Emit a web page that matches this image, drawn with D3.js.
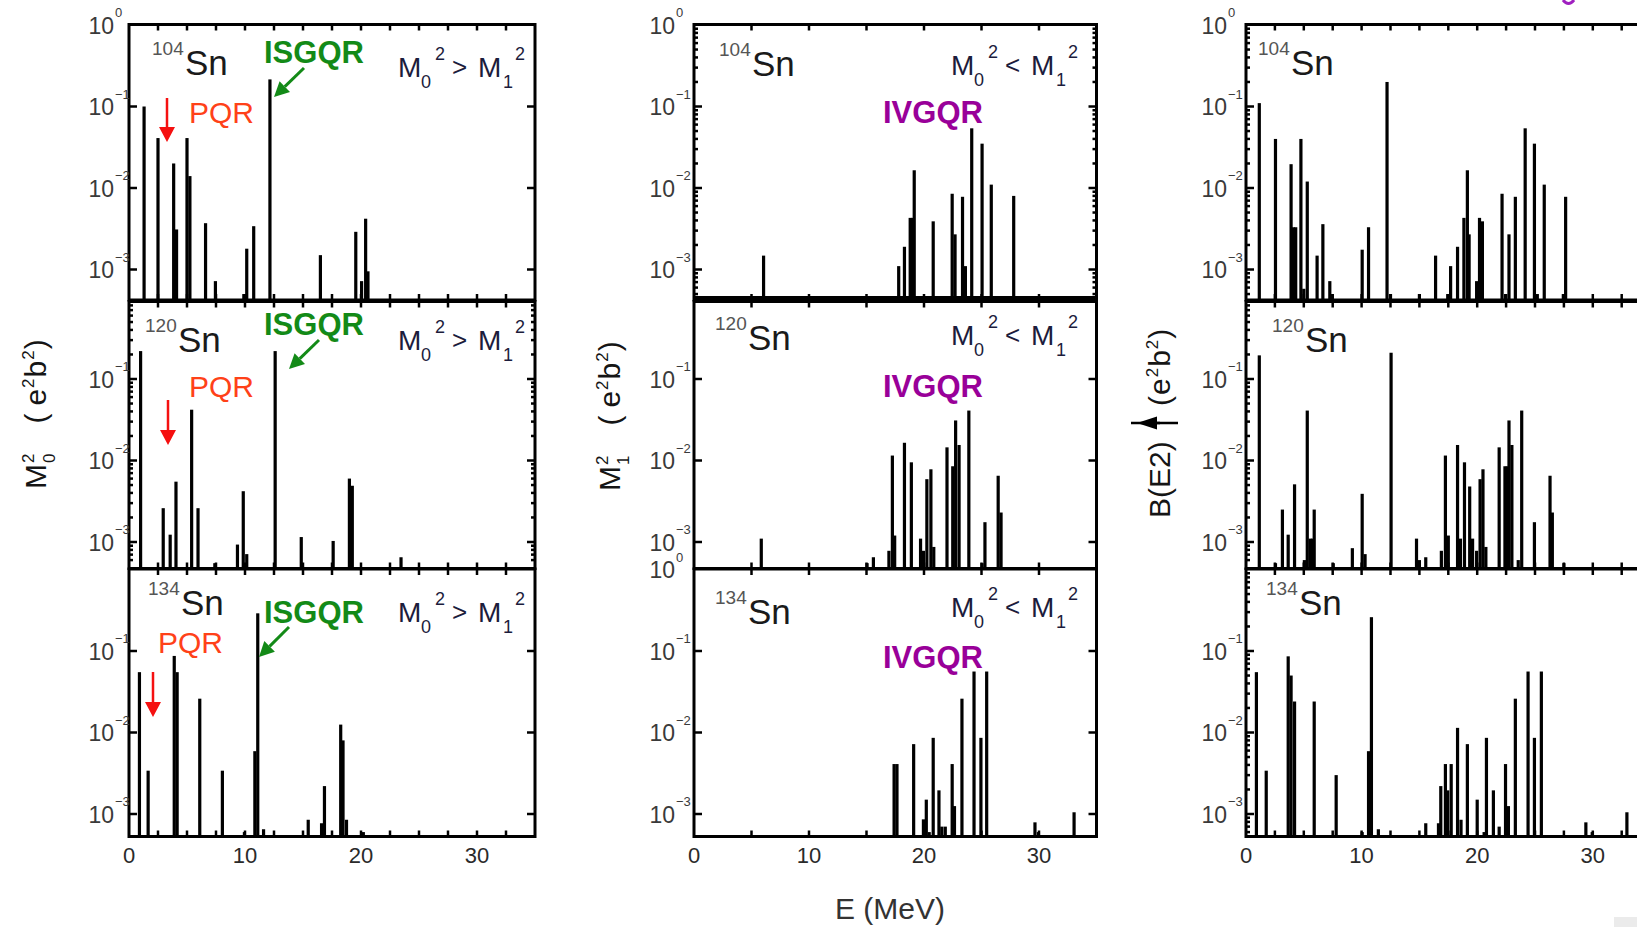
<!DOCTYPE html>
<html>
<head>
<meta charset="utf-8">
<script src="https://cdn.jsdelivr.net/npm/d3@7"></script>
<style>
body { margin: 0; background: #fff; overflow: hidden; }
svg { display: block; font-family: "Liberation Sans", Arial, sans-serif; }
</style>
</head>
<body>
<div id="vis"></div>
<script>
// ---- data ----
var energyTicks = [0, 10, 20, 30];
var decadeTicks = [0, -1, -2, -3];
var massNumbers = ['104', '120', '134'];

// M0^2 (e^2 b^2)
var m0Sn104E = [1.3, 2.5, 3.85, 4.1, 5.0, 5.25, 6.6, 7.45, 9.9, 10.15, 10.75, 12.15, 16.5, 19.55, 20.05, 20.4, 20.6];
var m0Sn104V = [0.10, 0.041, 0.020, 0.0031, 0.041, 0.014, 0.0037, 7.2e-4, 5e-4, 1.8e-3, 3.4e-3, 0.215, 1.5e-3, 2.9e-3, 7.2e-4, 4.2e-3, 9.5e-4];
var m0Sn120E = [1.0, 2.95, 3.55, 4.05, 5.4, 5.95, 7.4, 9.35, 9.85, 10.15, 12.6, 14.85, 17.6, 19.0, 19.25, 23.45];
var m0Sn120V = [0.22, 2.6e-3, 1.23e-3, 5.5e-3, 0.042, 2.6e-3, 5.5e-4, 9.3e-4, 4.2e-3, 7.1e-4, 0.22, 1.15e-3, 1.03e-3, 6.0e-3, 4.9e-3, 6.5e-4];
var m0Sn134E = [0.9, 1.65, 3.9, 4.15, 5.05, 6.1, 8.05, 9.95, 10.85, 11.1, 11.6, 15.0, 15.45, 16.6, 16.85, 18.25, 18.45, 18.75, 20.2];
var m0Sn134V = [0.055, 3.4e-3, 0.087, 0.055, 5.5e-4, 0.026, 3.4e-3, 6e-4, 5.9e-3, 0.29, 6.5e-4, 5.5e-4, 8.5e-4, 7.7e-4, 2.2e-3, 0.0125, 8e-3, 8.5e-4, 6e-4];

// M1^2 (e^2 b^2)
var m1Sn104E = [6.05, 17.8, 18.3, 18.8, 19.0, 19.15, 20.8, 22.45, 22.7, 23.35, 23.6, 24.15, 25.05, 25.85, 27.8];
var m1Sn104V = [1.48e-3, 1.1e-3, 1.9e-3, 4.3e-3, 4.3e-3, 0.0165, 3.9e-3, 8.5e-3, 2.7e-3, 7.8e-3, 1.1e-3, 0.054, 0.035, 0.011, 8e-3];
var m1Sn120E = [5.85, 15.05, 15.6, 16.95, 17.25, 17.45, 18.3, 18.9, 19.7, 19.95, 20.25, 20.6, 20.85, 22.0, 22.5, 22.75, 23.05, 23.9, 25.05, 25.3, 26.45, 26.7];
var m1Sn120V = [1.1e-3, 5.5e-4, 6.5e-4, 7.8e-4, 0.0115, 1.2e-3, 0.0165, 9.5e-3, 1.1e-3, 7.8e-4, 5.9e-3, 7.8e-3, 8.7e-4, 0.0145, 8.5e-3, 0.031, 0.0155, 0.041, 5.5e-4, 1.75e-3, 6.5e-3, 2.3e-3];
var m1Sn134E = [17.4, 17.65, 19.1, 19.95, 20.2, 20.45, 20.8, 21.3, 21.55, 21.85, 22.45, 22.65, 23.3, 24.35, 24.95, 25.45, 29.65, 29.95, 33.05];
var m1Sn134V = [4.1e-3, 4.1e-3, 7.2e-3, 8.6e-4, 1.5e-3, 6e-4, 8.6e-3, 1.95e-3, 7e-4, 7e-4, 4.1e-3, 1.25e-3, 0.026, 0.056, 8.6e-3, 0.056, 7.9e-4, 6e-4, 1.05e-3];

// B(E2) up (e^2 b^2)
var be2Sn104E = [1.15, 2.55, 3.9, 4.1, 4.3, 4.75, 5.0, 5.3, 6.15, 6.65, 7.25, 7.45, 10.05, 10.6, 12.2, 12.5, 15.0, 16.4, 17.45, 17.7, 18.3, 18.85, 19.15, 19.3, 19.95, 20.2, 20.45, 22.15, 22.45, 22.75, 23.3, 24.15, 24.95, 25.2, 25.8, 27.45, 27.65];
var be2Sn104V = [0.11, 0.040, 0.0196, 3.3e-3, 3.3e-3, 0.040, 5.8e-4, 0.012, 1.48e-3, 3.6e-3, 7.2e-4, 5e-4, 1.75e-3, 3.3e-3, 0.20, 5e-4, 5e-4, 1.48e-3, 5e-4, 1.1e-3, 1.9e-3, 4.3e-3, 0.0165, 2.7e-3, 7.2e-4, 4.3e-3, 3.9e-3, 8.5e-3, 5e-4, 2.7e-3, 7.8e-3, 0.054, 0.035, 5e-4, 0.011, 5e-4, 7.8e-3];
var be2Sn120E = [1.15, 2.55, 3.15, 3.65, 4.2, 5.05, 5.3, 5.55, 5.75, 5.9, 7.55, 9.2, 10.05, 10.3, 12.55, 14.75, 15.0, 15.55, 16.9, 17.25, 17.5, 18.3, 18.55, 18.9, 19.35, 19.6, 19.95, 20.25, 20.5, 20.75, 21.9, 22.4, 22.6, 22.75, 23.0, 23.55, 23.85, 24.95, 26.3, 26.5, 27.5];
var be2Sn120V = [0.195, 5.5e-4, 2.5e-3, 1.23e-3, 5.1e-3, 6e-4, 0.041, 1.1e-3, 1.1e-3, 2.5e-3, 5.5e-4, 8.4e-4, 3.9e-3, 7.1e-4, 0.21, 1.1e-3, 6e-4, 6.5e-4, 7.8e-4, 0.0115, 1.2e-3, 0.0155, 1.1e-3, 9.5e-3, 4.8e-3, 1.1e-3, 7.8e-4, 5.9e-3, 7.8e-3, 8.7e-4, 0.0145, 8.5e-3, 8.5e-3, 0.031, 0.0155, 6e-4, 0.041, 1.75e-3, 6.5e-3, 2.3e-3, 5.5e-4];
var be2Sn134E = [0.9, 1.75, 3.65, 3.9, 4.2, 5.05, 5.9, 7.8, 10.05, 10.6, 10.85, 11.45, 15.0, 15.55, 16.65, 16.85, 17.25, 17.45, 17.75, 18.3, 18.6, 19.15, 20.0, 20.6, 20.8, 21.4, 21.9, 22.45, 22.7, 23.3, 24.4, 24.95, 25.55, 29.4, 29.95, 32.95];
var be2Sn134V = [0.055, 3.4e-3, 0.086, 0.05, 0.024, 5.5e-4, 0.024, 3.0e-3, 6e-4, 5.9e-3, 0.26, 6.5e-4, 5.5e-4, 7.7e-4, 7.7e-4, 2.2e-3, 4.1e-3, 1.95e-3, 4.1e-3, 0.0114, 8.5e-4, 7.2e-3, 1.5e-3, 6e-4, 8.6e-3, 1.95e-3, 7e-4, 4.1e-3, 1.25e-3, 0.026, 0.056, 8.6e-3, 0.056, 7.9e-4, 6e-4, 1.05e-3];

// [column][row]
var panelData = [
    [{e: m0Sn104E, v: m0Sn104V}, {e: m0Sn120E, v: m0Sn120V}, {e: m0Sn134E, v: m0Sn134V}],
    [{e: m1Sn104E, v: m1Sn104V}, {e: m1Sn120E, v: m1Sn120V}, {e: m1Sn134E, v: m1Sn134V}],
    [{e: be2Sn104E, v: be2Sn104V}, {e: be2Sn120E, v: be2Sn120V}, {e: be2Sn134E, v: be2Sn134V}]
];


class StrengthFigure
{
    constructor(width, height)
    {
        // layout
        this.colX0 = [129, 694, 1246];
        this.colX1 = [535, 1096.5, 1650.6];
        this.rowTop = [24.5, 301.5, 569];
        this.rowBot = [300, 568.5, 836.5];
        this.rowZero = [25, 297.5, 569.5];
        this.decade = 81.5;
        this.barWidth = 3.2;
        this.xTickStep = [2.5, 5, 2.5];
        this.yLabelGap = [14, 18, 18];
        this.minorTicks = [[false, true, false], [true, false, false], [true, true, true]];
        this.nucLabel = [
            [[152, 75], [145, 352], [148, 615]],
            [[719, 76], [715, 350], [715, 624]],
            [[1258, 75], [1272, 352], [1266, 615]]
        ];

        this.svg = d3.select('#vis')
            .append('svg')
                .attr('width', width)
                .attr('height', height);

        this.svg.append('rect')
            .attr('width', width)
            .attr('height', height)
            .attr('fill', '#fff');
    }

    xScale(c)
    {
        return d3.scaleLinear().domain([0, 35]).range([this.colX0[c], this.colX1[c]]);
    }

    yScale(r)
    {
        return d3.scaleLog().domain([1, 1e-3]).range([this.rowZero[r], this.rowZero[r] + 3 * this.decade]);
    }

    drawPanel(c, r)
    {
        var x = this.xScale(c);
        var y = this.yScale(r);
        var top = this.rowTop[r];
        var bot = this.rowBot[r];
        var x0 = this.colX0[c];
        var x1 = this.colX1[c];
        var bw = this.barWidth;
        var gap = this.yLabelGap[c];
        var d = panelData[c][r];
        var bars = d.e.map(function(e, i) { return {e: e, v: d.v[i]}; });

        var g = this.svg.append('g');

        g.selectAll('rect.bar')
            .data(bars)
            .enter()
            .append('rect')
                .attr('class', 'bar')
                .attr('x', function(b) { return x(b.e) - bw / 2; })
                .attr('y', function(b) { return y(b.v); })
                .attr('width', bw)
                .attr('height', function(b) { return bot - y(b.v); })
                .attr('fill', '#000');

        // x ticks, inward on top and bottom
        var xt = d3.range(this.xTickStep[c], 34.9, this.xTickStep[c]);
        [[top, 6], [bot, -6]].forEach(function(p) {
            g.selectAll(null)
                .data(xt)
                .enter()
                .append('line')
                    .attr('x1', function(t) { return x(t); })
                    .attr('x2', function(t) { return x(t); })
                    .attr('y1', p[0])
                    .attr('y2', p[0] + p[1])
                    .attr('stroke', '#000')
                    .attr('stroke-width', 2.5);
        });

        // y ticks
        var yt = [];
        [1e-1, 1e-2, 1e-3].forEach(function(v) { yt.push({v: v, len: 8}); });
        if(this.minorTicks[c][r])
        {
            for(var p = -4; p < 0; ++p)
            {
                for(var k = 2; k < 10; ++k)
                {
                    var v = k * Math.pow(10, p);
                    if(y(v) > top + 3 && y(v) < bot - 3)
                        yt.push({v: v, len: 4});
                }
            }
        }
        [[x0, 1], [x1, -1]].forEach(function(p) {
            g.selectAll(null)
                .data(yt)
                .enter()
                .append('line')
                    .attr('x1', p[0])
                    .attr('x2', function(t) { return p[0] + p[1] * t.len; })
                    .attr('y1', function(t) { return y(t.v); })
                    .attr('y2', function(t) { return y(t.v); })
                    .attr('stroke', '#000')
                    .attr('stroke-width', 2.5);
        });

        g.append('rect')
            .attr('x', x0)
            .attr('y', top)
            .attr('width', x1 - x0)
            .attr('height', bot - top)
            .attr('fill', 'none')
            .attr('stroke', '#000')
            .attr('stroke-width', 3);

        // middle column: the seam under the top panel is heavier
        if(c == 1 && r == 0)
        {
            g.append('line')
                .attr('x1', x0).attr('x2', x1)
                .attr('y1', bot - 1).attr('y2', bot - 1)
                .attr('stroke', '#000')
                .attr('stroke-width', 6);
        }

        // y tick labels
        var exps = decadeTicks.filter(function(p) { return p < 0 || r == 0 || (c == 1 && r == 2); });
        var lab = g.selectAll('g.ylab')
            .data(exps)
            .enter()
            .append('g')
                .attr('fill', '#3a3a3a');
        lab.append('text')
            .attr('x', x0 - gap - 1)
            .attr('y', function(p) { return y(Math.pow(10, p)) + 8.5; })
            .attr('text-anchor', 'end')
            .attr('font-size', 23)
            .text('10');
        lab.append('text')
            .attr('x', x0 - gap)
            .attr('y', function(p) { return y(Math.pow(10, p)) - 8; })
            .attr('font-size', 13)
            .text(function(p) { return p == 0 ? '0' : '\u2212' + (-p); });

        // x tick labels on the bottom row
        if(r == 2)
        {
            g.selectAll('text.xlab')
                .data(energyTicks)
                .enter()
                .append('text')
                    .attr('x', function(t) { return x(t); })
                    .attr('y', bot + 26)
                    .attr('text-anchor', 'middle')
                    .attr('font-size', 22)
                    .attr('fill', '#2a2a2a')
                    .text(function(t) { return t; });
        }

        // nucleus label
        var nl = this.nucLabel[c][r];
        g.append('text')
            .attr('x', nl[0])
            .attr('y', nl[1] - 20)
            .attr('font-size', 19)
            .attr('fill', '#555')
            .text(massNumbers[r]);
        g.append('text')
            .attr('x', nl[0] + 33)
            .attr('y', nl[1])
            .attr('font-size', 35)
            .attr('fill', '#1a1a1a')
            .text('Sn');
    }

    drawArrow(xa, ya, xb, yb, color, lw, headLen, headHalf)
    {
        var ang = Math.atan2(yb - ya, xb - xa);
        var bx = xb - headLen * Math.cos(ang);
        var by = yb - headLen * Math.sin(ang);
        var s = Math.sin(ang), co = Math.cos(ang);

        this.svg.append('line')
            .attr('x1', xa).attr('y1', ya)
            .attr('x2', bx).attr('y2', by)
            .attr('stroke', color)
            .attr('stroke-width', lw);
        this.svg.append('path')
            .attr('d', 'M' + xb + ',' + yb
                + 'L' + (bx + headHalf * s) + ',' + (by - headHalf * co)
                + 'L' + (bx - headHalf * s) + ',' + (by + headHalf * co) + 'Z')
            .attr('fill', color);
    }

    drawMLabel(X, B, cmp)
    {
        var parts = [['M', 0, 0, 28], ['0', 23, 11, 18], ['2', 37, -17, 18], [cmp, 54, -1, 26],
            ['M', 80, 0, 28], ['1', 105, 11, 18], ['2', 117, -17, 18]];
        var g = this.svg.append('g').attr('fill', '#1c1c3c');
        parts.forEach(function(p) {
            g.append('text')
                .attr('x', X + p[1])
                .attr('y', B + p[2])
                .attr('font-size', p[3])
                .text(p[0]);
        });
    }

    drawRotated(tx, ty, parts)
    {
        var t = this.svg.append('text')
            .attr('transform', 'translate(' + tx + ',' + ty + ') rotate(-90)')
            .attr('fill', '#151515');
        parts.forEach(function(p) {
            t.append('tspan')
                .attr('font-size', p[1])
                .attr('dx', p[2])
                .attr('dy', p[3])
                .text(p[0]);
        });
    }

    drawAnnotations()
    {
        // column 1: M0^2 > M1^2, ISGQR, PQR
        var isX = 264, isY = [63, 335, 623];
        var pqX = [189, 189, 158], pqY = [123, 397, 653];
        var red = [[167, 98, 142], [168, 400, 445], [153, 672, 717]];
        var green = [[304, 68, 274, 97], [319, 340, 289, 369], [289, 627, 259, 657]];
        var mY0 = [77, 350, 622];
        var mY1 = [75, 345, 617];
        var ivY = [123, 397, 668];

        for(var r = 0; r < 3; ++r)
        {
            this.svg.append('text')
                .attr('x', isX).attr('y', isY[r])
                .attr('font-size', 31).attr('font-weight', 'bold')
                .attr('fill', '#138a17')
                .text('ISGQR');
            this.svg.append('text')
                .attr('x', pqX[r]).attr('y', pqY[r])
                .attr('font-size', 30)
                .attr('fill', '#ff4118')
                .text('PQR');
            this.drawArrow(red[r][0], red[r][1], red[r][0], red[r][2], '#f51010', 2.5, 15, 8);
            this.drawArrow(green[r][0], green[r][1], green[r][2], green[r][3], '#138a17', 3, 15, 7.5);
            this.drawMLabel(398, mY0[r], '>');

            // column 2: M0^2 < M1^2, IVGQR
            this.svg.append('text')
                .attr('x', 883).attr('y', ivY[r])
                .attr('font-size', 31).attr('font-weight', 'bold')
                .attr('fill', '#990099')
                .text('IVGQR');
            this.drawMLabel(951, mY1[r], '<');
        }

        // axis titles
        var sub = function(s) {
            return [['M', 30, 0, 0], [s, 17, 1, 9], ['2', 17, -9.5, -21], ['(', 30, 30, 12],
                ['e', 30, 8, 0], ['2', 17, 1, -12], ['b', 30, 1, 12], ['2', 17, 1, -12], [')', 30, 1, 12]];
        };
        this.drawRotated(46, 489, sub('0'));
        this.drawRotated(620, 491, sub('1'));
        this.drawRotated(1170, 518, [['B(E2)', 30, 0, 0]]);
        this.drawRotated(1170, 406, [['(', 30, 0, 0], ['e', 30, 1, 0], ['2', 17, 1, -12],
            ['b', 30, 1, 12], ['2', 17, 1, -12], [')', 30, 1, 12]]);
        // the up-arrow of B(E2), turned with the title
        this.svg.append('line')
            .attr('x1', 1131).attr('y1', 423)
            .attr('x2', 1178).attr('y2', 423)
            .attr('stroke', '#000').attr('stroke-width', 2.5);
        this.drawArrow(1160, 423, 1137, 423, '#000', 2.5, 20, 6.5);

        this.svg.append('text')
            .attr('x', 890).attr('y', 919)
            .attr('text-anchor', 'middle')
            .attr('font-size', 30)
            .attr('fill', '#333')
            .text('E (MeV)');

        // bits cut off at the edges of the page
        this.svg.append('path')
            .attr('d', 'M1563,0 Q1568.5,7 1574,0')
            .attr('fill', 'none')
            .attr('stroke', '#a020c0')
            .attr('stroke-width', 3);
        this.svg.append('rect')
            .attr('x', 1614).attr('y', 917)
            .attr('width', 23).attr('height', 10)
            .attr('fill', '#ebebeb');
    }

    Run()
    {
        for(var c = 0; c < 3; ++c)
            for(var r = 0; r < 3; ++r)
                this.drawPanel(c, r);
        this.drawAnnotations();
    }
}


window.onload = function()
{
    var instance = new StrengthFigure(1637, 927);
    instance.Run();
}
</script>
</body>
</html>
